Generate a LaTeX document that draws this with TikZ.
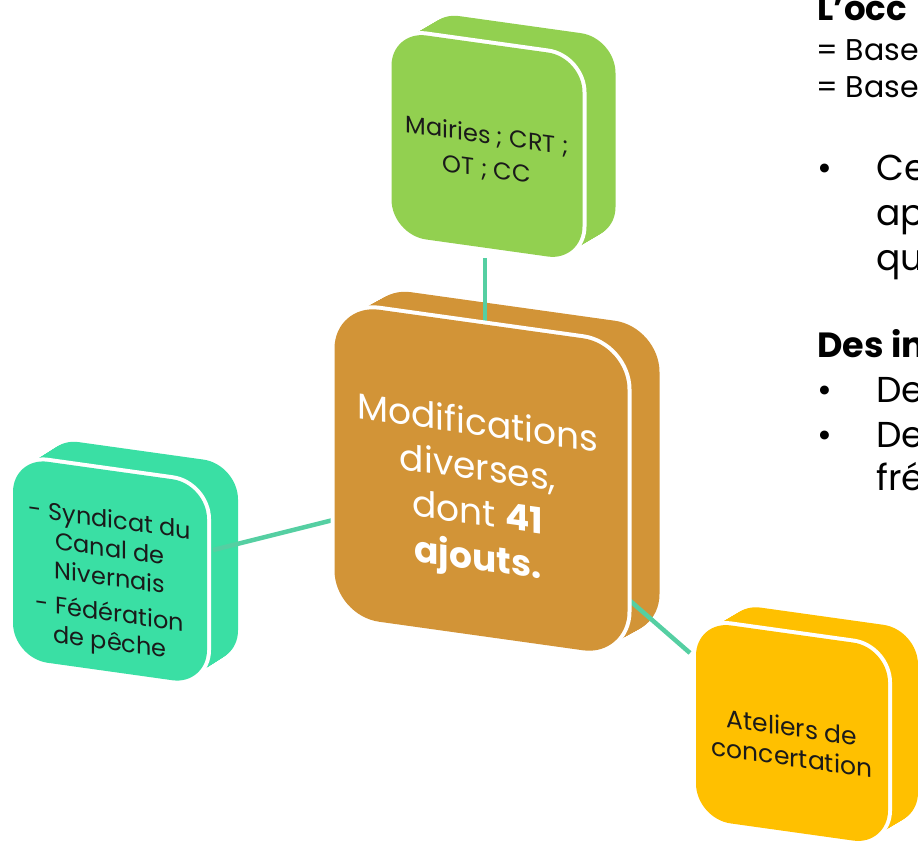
\documentclass[tikz,border=0pt]{standalone}
\usepackage{fontspec}
\setmainfont{Poppins}
\definecolor{cgreen}{HTML}{92D050}
\definecolor{corange}{HTML}{D29437}
\definecolor{cteal}{HTML}{3ADFA4}
\definecolor{cyellow}{HTML}{FFC000}
\definecolor{cconn}{HTML}{55CFA2}
\definecolor{ctext}{HTML}{1A1A1A}
\newcommand\cubeback[8]{%
  \begin{scope}[shift={(#1,-#2)},yslant=-0.14]
    \foreach \i in {0,...,24}{%
      \fill[#8,rounded corners=#5pt] ({-#3/2+\i/24*#6},{-#4/2+\i/24*#7}) rectangle ({#3/2+\i/24*#6},{#4/2+\i/24*#7});
    }
  \end{scope}}
\newcommand\cubefront[6]{%
  \begin{scope}[shift={(#1,-#2)},yslant=-0.14]
    \draw[white,line width=8pt,rounded corners=#5pt] (-#3/2,-#4/2) rectangle (#3/2,#4/2);
    \fill[#6,rounded corners=#5pt] (-#3/2,-#4/2) rectangle (#3/2,#4/2);
  \end{scope}}
\tikzset{
  conn/.style={draw=cconn,line width=4.5pt},
  boxtext/.style={transform shape,align=center,inner sep=0pt,text=ctext},
  sidetext/.style={anchor=base west,inner sep=0pt,text=black},
}
\begin{document}
\begin{tikzpicture}[x=1pt,y=1pt]
\useasboundingbox (0,0) rectangle (918,-846);
\clip (0,0) rectangle (918,-846);
% extrusions
\cubeback{487}{146}{191}{204}{35}{33}{24}{cgreen}
\cubeback{481}{480}{293}{312}{45}{32}{22}{corange}
\cubeback{110}{571}{194}{201}{35}{31}{24}{cteal}
\cubeback{792}{733}{192}{198}{35}{30}{22}{cyellow}
% connectors
\coordinate (gS) at (485,-258);
\coordinate (cN) at (485,-330);
\coordinate (tE) at (213,-550);
\coordinate (cW) at (333,-520);
\coordinate (cSE) at (628,-599);
\coordinate (yNW) at (690,-653);
\draw[conn] (gS) -- (cN);
\draw[conn] (tE) -- (cW);
\draw[conn] (cSE) -- (yNW);
% front faces
\cubefront{487}{146}{191}{204}{35}{cgreen}
\cubefront{481}{480}{293}{312}{45}{corange}
\cubefront{110}{571}{194}{201}{35}{cteal}
\cubefront{792}{733}{192}{198}{35}{cyellow}
% texts in boxes
\begin{scope}[shift={(487,-146)},yslant=-0.14]
  \node[boxtext,font=\fontsize{24}{34}\selectfont] (tg) at (0,-7) {Mairies ; CRT ;\\OT ; CC};
\end{scope}
\begin{scope}[shift={(481,-480)},yslant=-0.14]
  \node[boxtext,text=white,font=\fontsize{36}{45}\selectfont] (tc) at (-3,-14) {Modifications\\diverses,\\dont \textbf{41}\\\textbf{ajouts.}};
\end{scope}
\begin{scope}[shift={(110,-571)},yslant=-0.14]
  \node[boxtext,font=\fontsize{24}{29}\selectfont] (tt) at (0,-12) {- Syndicat du\\Canal de\\Nivernais\\[6pt]- Fédération\\de pêche};
\end{scope}
\begin{scope}[shift={(792,-733)},yslant=-0.14]
  \node[boxtext,font=\fontsize{25}{30}\selectfont] (ty) at (0,-9) {Ateliers de\\concertation};
\end{scope}
% right-hand text
\node[sidetext,font=\fontsize{34}{40}\selectfont\bfseries] (r1) at (817,-20) {L’occ};
\node[sidetext,font=\fontsize{30}{36}\selectfont] (r2) at (816,-60) {= Base};
\node[sidetext,font=\fontsize{30}{36}\selectfont] (r3) at (816,-97) {= Base};
\node[sidetext,font=\fontsize{36}{45}\selectfont] (b1) at (817,-180) {•};
\node[sidetext,font=\fontsize{36}{45}\selectfont] (r4) at (876,-180) {Ce};
\node[sidetext,font=\fontsize{36}{45}\selectfont] (r5) at (876,-225) {ap};
\node[sidetext,font=\fontsize{36}{45}\selectfont] (r6) at (876,-270) {qu};
\node[sidetext,font=\fontsize{35}{45}\selectfont\bfseries] (r7) at (817,-357) {Des in};
\node[sidetext,font=\fontsize{36}{45}\selectfont] (b2) at (817,-402) {•};
\node[sidetext,font=\fontsize{36}{45}\selectfont] (r8) at (876,-402) {De};
\node[sidetext,font=\fontsize{36}{45}\selectfont] (b3) at (817,-447) {•};
\node[sidetext,font=\fontsize{36}{45}\selectfont] (r9) at (876,-447) {De};
\node[sidetext,font=\fontsize{36}{45}\selectfont] (r10) at (876,-490) {fré};
\end{tikzpicture}
\end{document}
